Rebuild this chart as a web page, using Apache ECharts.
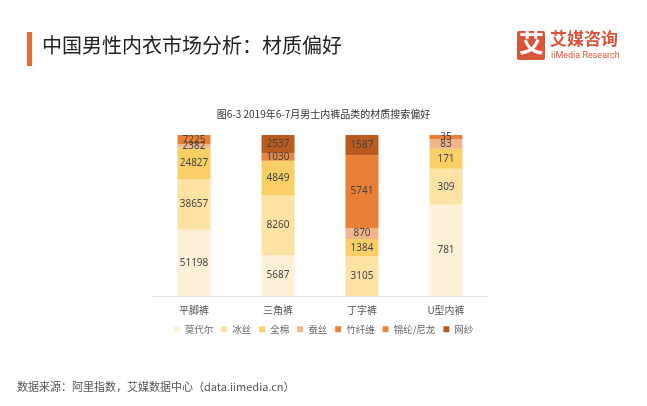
<!DOCTYPE html>
<html><head><meta charset="utf-8">
<script src="https://cdn.jsdelivr.net/npm/echarts@6/dist/echarts.min.js"></script>
<style>html,body{margin:0;padding:0;background:#fff}#c{width:647px;height:406px}</style>
</head><body><div id="c"></div>
<script>
const categories = ['平脚裤', '三角裤', '丁字裤', 'U型内裤'];
const seriesNames = ['莫代尔', '冰丝', '全棉', '蚕丝', '竹纤维', '锦纶/尼龙', '网纱'];
const modal  = [51198, 5687, 0, 781];
const bingsi = [38657, 8260, 3105, 309];
const mian   = [24827, 4849, 1384, 171];
const cansi  = [2382, 0, 870, 83];
const zhuxw  = [7225, 0, 5741, 35];
const jinlun = [0, 1030, 0, 0];
const wangsha= [0, 2537, 1587, 0];
const colors = ['#FDF0D6', '#FCE3A4', '#FAD066', '#F1B68C', '#EC7F36', '#E4883F', '#BA5A1E'];

const raw = [modal, bingsi, mian, cansi, zhuxw, jinlun, wangsha];
const totals = categories.map((c, j) => raw.reduce((s, a) => s + a[j], 0));

const series = raw.map((arr, i) => ({
  name: seriesNames[i],
  type: 'bar',
  stack: 'total',
  barWidth: 33,
  itemStyle: { color: colors[i] },
  data: arr.map((v, j) => ({ value: v / totals[j] * 100, raw: v })),
  label: {
    show: true,
    position: 'inside',
    fontSize: 10,
    color: '#444',
    fontFamily: 'Noto Sans',
    formatter: p => p.data.raw ? String(p.data.raw) : ''
  }
}));

const chart = echarts.init(document.getElementById('c'));
chart.setOption({
  backgroundColor: '#fff',
  animation: false,
  title: {
    text: '图6-3 2019年6-7月男士内裤品类的材质搜索偏好',
    left: 'center', top: 104,
    textStyle: { fontSize: 10, fontWeight: 'normal', color: '#333', fontFamily: 'Noto Sans CJK SC' }
  },
  legend: {
    bottom: 68, left: 'center', padding: [4, 12],
    itemWidth: 6, itemHeight: 6, itemGap: 8,
    icon: 'rect',
    textStyle: { fontSize: 9.5, color: '#666', fontFamily: 'Noto Sans CJK SC' },
    data: seriesNames
  },
  grid: { left: 152, right: 159, top: 135, bottom: 110 },
  xAxis: {
    type: 'category', data: categories,
    axisLine: { lineStyle: { color: '#e2e2e2' } },
    axisTick: { show: false },
    axisLabel: { fontSize: 10, color: '#555', margin: 9, fontFamily: 'Noto Sans CJK SC' }
  },
  yAxis: { type: 'value', min: 0, max: 100, show: false, splitLine: { show: false } },
  series: series,
  graphic: [
    { type: 'rect', shape: { x: 27, y: 32, width: 5, height: 34 }, style: { fill: '#E8683A' } },
    { type: 'text', left: 42, top: 35, style: { text: '中国男性内衣市场分析：材质偏好', fontSize: 20, fill: '#222', fontFamily: 'Noto Sans CJK SC' } },
    { type: 'rect', shape: { x: 517, y: 31, width: 28, height: 29, r: 2 }, style: { fill: '#D9553A' } },
    { type: 'text', left: 519, top: 30, style: { text: '艾', fontSize: 25, fontWeight: 'bold', fill: '#fff', fontFamily: 'Noto Sans CJK SC' } },
    { type: 'text', left: 550, top: 30, style: { text: '艾媒咨询', fontSize: 17, fontWeight: 'bold', fill: '#D9553A', fontFamily: 'Noto Sans CJK SC' } },
    { type: 'text', left: 551, top: 51, style: { text: 'iiMedia Research', fontSize: 9, fill: '#D9553A', fontFamily: 'Roboto' } },
    { type: 'text', left: 17, top: 381, style: { text: '数据来源：阿里指数，艾媒数据中心（data.iimedia.cn）', fontSize: 11, fill: '#555', fontFamily: 'Noto Sans CJK SC' } }
  ]
});
</script></body></html>
